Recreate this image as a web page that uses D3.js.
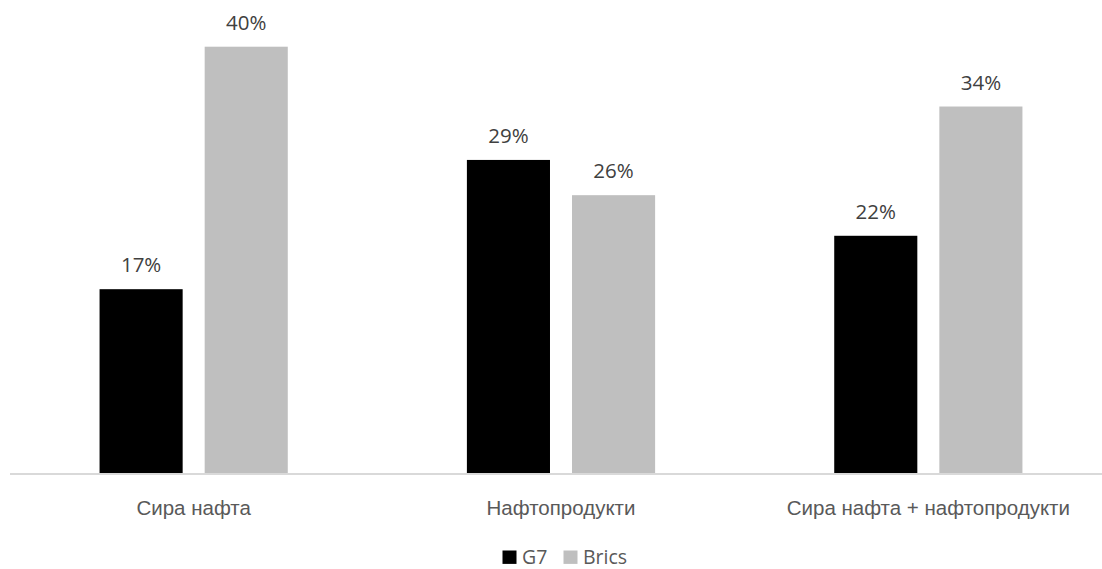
<!DOCTYPE html>
<html>
<head>
<meta charset="utf-8">
<script src="https://d3js.org/d3.v7.min.js"></script>
<style>
  body { margin: 0; background: #fff; }
  svg { display: block; font-family: "Open Sans", sans-serif; }
  .axis path { stroke: #d9d9d9; stroke-width: 2px; }
  .axis text { fill: #595959; font-size: 20.5px; }
  .lbl { fill: #404040; font-size: 20.5px; }
  .legend text { fill: #595959; font-size: 19.5px; }
</style>
</head>
<body>
<script>
// data
var categories = ["Сира нафта", "Нафтопродукти", "Сира нафта + нафтопродукти"];
var series = ["G7", "Brics"];
var colors = ["#000000", "#bfbfbf"];
var g7 = [0.173, 0.294, 0.223];
var brics = [0.40, 0.261, 0.344];

var width = 1102, height = 569;
var base = 474, top40 = 46.7;

var svg = d3.select("body").append("svg")
    .attr("width", width)
    .attr("height", height);

var x0 = d3.scaleBand()
    .domain(categories)
    .range([10, 1112]);

var x1 = d3.scaleBand()
    .domain(series)
    .range([0, x0.bandwidth()])
    .paddingInner(0.2095)
    .paddingOuter(0.852);

var y = d3.scaleLinear()
    .domain([0, 0.40])
    .range([base, top40]);

var rows = categories.map(function(c, i) {
    return {cat: c, vals: [
        {s: "G7", v: g7[i], c: colors[0]},
        {s: "Brics", v: brics[i], c: colors[1]}
    ]};
});

var groups = svg.selectAll(".grp")
    .data(rows)
    .enter().append("g")
    .attr("class", "grp")
    .attr("transform", function(d) { return "translate(" + x0(d.cat) + ",0)"; });

groups.selectAll("rect")
    .data(function(d) { return d.vals; })
    .enter().append("rect")
    .attr("x", function(d) { return x1(d.s); })
    .attr("y", function(d) { return y(d.v); })
    .attr("width", x1.bandwidth())
    .attr("height", function(d) { return base - y(d.v); })
    .attr("fill", function(d) { return d.c; });

// value labels
groups.selectAll(".lbl")
    .data(function(d) { return d.vals; })
    .enter().append("text")
    .attr("class", "lbl")
    .attr("x", function(d) { return x1(d.s) + x1.bandwidth() / 2; })
    .attr("y", function(d) { return y(d.v) - 17; })
    .attr("text-anchor", "middle")
    .text(function(d) { return d3.format(".0%")(d.v); });

// x axis
var ax = svg.append("g")
    .attr("class", "axis")
    .attr("transform", "translate(0," + base + ")")
    .call(d3.axisBottom(x0).tickSize(0).tickPadding(26));
ax.select(".domain").attr("d", "M10,0H" + width);

// legend
var legend = svg.append("g").attr("class", "legend");
var lx = [502.5, 563.5];
series.forEach(function(s, i) {
    legend.append("rect")
        .attr("x", lx[i]).attr("y", 550.5)
        .attr("width", 14).attr("height", 13.4)
        .attr("fill", colors[i]);
    legend.append("text")
        .attr("x", lx[i] + 19.5).attr("y", 563.5)
        .text(s);
});
</script>
</body>
</html>
